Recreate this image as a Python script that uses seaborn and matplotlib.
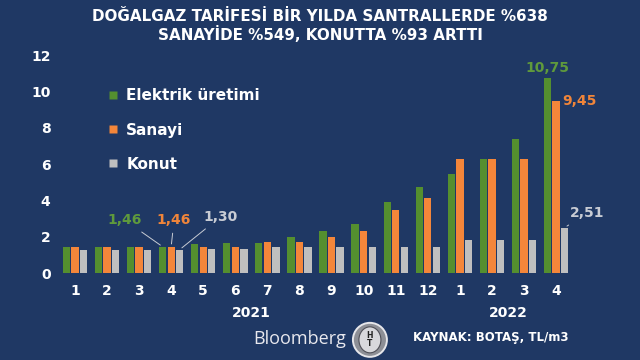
import matplotlib
matplotlib.use("Agg")
import matplotlib.pyplot as plt
import seaborn as sns
import pandas as pd
from matplotlib.patches import Ellipse
from matplotlib.lines import Line2D

# ---- data ----
periods = ["2021-01", "2021-02", "2021-03", "2021-04", "2021-05", "2021-06",
           "2021-07", "2021-08", "2021-09", "2021-10", "2021-11", "2021-12",
           "2022-01", "2022-02", "2022-03", "2022-04"]
month_labels = ["1", "2", "3", "4", "5", "6", "7", "8", "9", "10", "11", "12",
                "1", "2", "3", "4"]
elektrik = [1.46, 1.46, 1.46, 1.46, 1.60, 1.69, 1.69, 2.02, 2.33, 2.70, 3.94,
            4.75, 5.46, 6.27, 7.39, 10.75]
sanayi = [1.46, 1.46, 1.46, 1.46, 1.46, 1.46, 1.74, 1.74, 2.00, 2.33, 3.47,
          4.16, 6.27, 6.27, 6.27, 9.45]
konut = [1.28, 1.28, 1.30, 1.30, 1.33, 1.35, 1.47, 1.47, 1.45, 1.45, 1.45,
         1.45, 1.83, 1.83, 1.83, 2.51]
series_names = ["Elektrik üretimi", "Sanayi", "Konut"]
years = ["2021", "2022"]
title = "DOĞALGAZ TARİFESİ BİR YILDA SANTRALLERDE %638\nSANAYİDE %549, KONUTTA %93 ARTTI"
source = "KAYNAK: BOTAŞ, TL/m3"

BG = "#1f3864"
colors = ["#548f2f", "#f4863a", "#bfbfbf"]
label_colors = ["#5f9a3c", "#f0853a", "#c8ccd4"]

df = pd.DataFrame({
    "period": periods * 3,
    "value": elektrik + sanayi + konut,
    "series": [series_names[0]] * 16 + [series_names[1]] * 16 + [series_names[2]] * 16,
})

sns.set_theme(style="white")
plt.rcParams["font.family"] = ["DejaVu Sans"]

fig = plt.figure(figsize=(6.4, 3.6), dpi=100, facecolor=BG)
ax = fig.add_axes([0.092, 0.241, 0.802, 0.606], facecolor=BG)

sns.barplot(data=df, x="period", y="value", hue="series", order=periods,
            hue_order=series_names, palette=colors, width=0.8, gap=0.15,
            ax=ax, legend=False, edgecolor="none", saturation=1)

ax.set_xlim(-0.5, 15.5)
ax.set_ylim(0, 12)
ax.set_yticks([0, 2, 4, 6, 8, 10, 12])
ax.set_yticklabels(["0", "2", "4", "6", "8", "10", "12"], color="white",
                   fontsize=10, fontweight="bold")
ax.set_xticks(range(len(periods)))
ax.set_xticklabels(month_labels, color="white", fontsize=10, fontweight="bold")
ax.tick_params(axis="both", length=0)
ax.tick_params(axis="x", pad=8)
ax.tick_params(axis="y", pad=6)
ax.set_xlabel("")
ax.set_ylabel("")
for s in ax.spines.values():
    s.set_visible(False)
ax.grid(False)

# year labels
ax.text(5.5, -2.2, years[0], ha="center", va="center", color="white",
        fontsize=10, fontweight="bold", clip_on=False)
ax.text(13.5, -2.2, years[1], ha="center", va="center", color="white",
        fontsize=10, fontweight="bold", clip_on=False)

# legend
handles = [Line2D([0], [0], marker="s", linestyle="none", markersize=6,
                  markerfacecolor=c, markeredgecolor="none") for c in colors]
leg = ax.legend(handles, series_names, loc="upper left",
                bbox_to_anchor=(0.06, 0.91), frameon=False, labelspacing=1.25,
                handletextpad=0.3, handlelength=1.2)
for t in leg.get_texts():
    t.set_color("white")
    t.set_fontsize(11)
    t.set_fontweight("bold")

# annotations
w = 0.8 / 3
lp = dict(arrowstyle="-", color="#c8ccd4", lw=0.7)
ax.annotate(f"{elektrik[3]:.2f}".replace(".", ","), xy=(3 - w, elektrik[3]),
            xytext=(2.09, 2.92), ha="right", va="center", color=label_colors[0],
            fontsize=10, fontweight="bold", arrowprops=lp)
ax.annotate(f"{sanayi[3]:.2f}".replace(".", ","), xy=(3, sanayi[3]),
            xytext=(3.09, 2.92), ha="center", va="center", color=label_colors[1],
            fontsize=10, fontweight="bold", arrowprops=lp)
ax.annotate(f"{konut[3]:.2f}".replace(".", ","), xy=(3 + w, konut[3]),
            xytext=(4.0, 3.1), ha="left", va="center", color=label_colors[2],
            fontsize=10, fontweight="bold", arrowprops=lp)
ax.text(14.72, 11.28, f"{elektrik[15]:.2f}".replace(".", ","), ha="center",
        va="center", color=label_colors[0], fontsize=10, fontweight="bold")
ax.text(15.18, 9.47, f"{sanayi[15]:.2f}".replace(".", ","), ha="left",
        va="center", color=label_colors[1], fontsize=10, fontweight="bold")
ax.annotate(f"{konut[15]:.2f}".replace(".", ","), xy=(15 + w, konut[15]),
            xytext=(15.42, 3.3), ha="left", va="center", color=label_colors[2],
            fontsize=10, fontweight="bold", arrowprops=lp)

# title
fig.text(0.5, 0.928, title, ha="center", va="center", color="white",
         fontsize=10.9, fontweight="bold", linespacing=1.15)

# footer
fig.text(0.395, 0.058, "Bloomberg", ha="left", va="center", color="#e8e8ee",
         fontsize=13, family="Open Sans")
ell = Ellipse((0.578, 0.056), 34 / 640, 34 / 360, transform=fig.transFigure,
              facecolor="#8d8f96", edgecolor="#e6e6ea", lw=1.4)
fig.add_artist(ell)
ell2 = Ellipse((0.578, 0.056), 22 / 640, 26 / 360, transform=fig.transFigure,
               facecolor="#d8d8dc", edgecolor="#505058", lw=0.8)
fig.add_artist(ell2)
fig.text(0.578, 0.056, "H\nT", ha="center", va="center", color="#202020",
         fontsize=5.5, fontweight="bold", linespacing=0.9)
fig.text(0.645, 0.062, source, ha="left", va="center", color="white",
         fontsize=8.5, fontweight="bold")

fig.savefig("out.png", dpi=100, facecolor=BG)
